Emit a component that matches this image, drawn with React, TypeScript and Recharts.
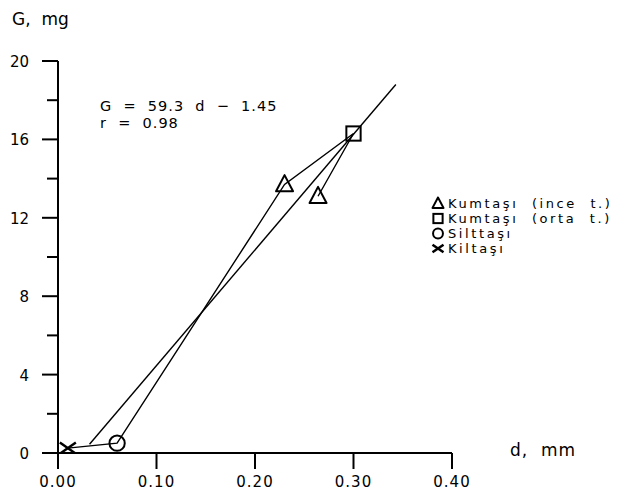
import React from "react";
import { ComposedChart, XAxis, YAxis, Line, Scatter } from "recharts";

const SP = "\u00A0";

// legend
const rockNames = [`Kumtaşı${SP}${SP}(ince${SP}${SP}t.)`, `Kumtaşı${SP}${SP}(orta${SP}${SP}t.)`, "Silttaşı", "Kiltaşı"];
const rockShapes = ["triangle", "square", "circle", "cross"];

// measured samples, in the order the connecting line runs
const sampleD = [0.01, 0.06, 0.23, 0.3, 0.264];
const sampleG = [0.25, 0.5, 13.7, 16.3, 13.1];
const sampleShape = ["cross", "circle", "triangle", "square", "triangle"];

// regression line ends (G = 59.3 d - 1.45)
const fitD = [0.032, 0.343];
const fitG = [0.45, 18.8];

const xTicks = [0, 0.1, 0.2, 0.3, 0.4];
const yTicks = [0, 2, 4, 6, 8, 10, 12, 14, 16, 18, 20];

const FONT = "'DejaVu Sans', sans-serif";

const pathData = sampleD.map((d, i) => ({ d, G: sampleG[i] }));
const fitData = fitD.map((d, i) => ({ d, G: fitG[i] }));

const Marker = ({ cx, cy, kind, size }: any) => {
  const s = size;
  const common = { fill: "none", stroke: "#000", strokeWidth: 2 };
  if (kind === "triangle")
    return (
      <polygon
        points={`${cx},${cy - s * 0.55} ${cx - s / 2},${cy + s * 0.4} ${cx + s / 2},${cy + s * 0.4}`}
        {...common}
        strokeLinejoin="round"
      />
    );
  if (kind === "square")
    return <rect x={cx - s * 0.42} y={cy - s * 0.42} width={s * 0.84} height={s * 0.84} {...common} />;
  if (kind === "circle") return <circle cx={cx} cy={cy} r={s * 0.45} {...common} />;
  return (
    <g {...common} strokeWidth={2.5}>
      <line x1={cx - s / 2} y1={cy - s * 0.35} x2={cx + s / 2} y2={cy + s * 0.35} />
      <line x1={cx - s / 2} y1={cy + s * 0.35} x2={cx + s / 2} y2={cy - s * 0.35} />
    </g>
  );
};

const YTick = ({ x, y, payload }: any) => {
  const major = payload.value % 4 === 0;
  return (
    <g>
      <line x1={x - (major ? 16 : 11)} x2={x} y1={y} y2={y} stroke="#000" strokeWidth={2} />
      {major && (
        <text x={x - 29} y={y + 6} textAnchor="end" fontFamily={FONT} fontSize={15} fill="#000">
          {payload.value}
        </text>
      )}
    </g>
  );
};

const XTick = ({ x, y, payload }: any) => (
  <g>
    <line x1={x} x2={x} y1={y} y2={y + 16} stroke="#000" strokeWidth={2} />
    <text x={x} y={y + 34} textAnchor="middle" fontFamily={FONT} fontSize={15} fill="#000" letterSpacing={1}>
      {payload.value.toFixed(2)}
    </text>
  </g>
);

const App = () => {
  return (
    <div style={{ position: "relative", width: 629, height: 487 }}>
      <ComposedChart width={629} height={487} margin={{ top: 53, right: 185, left: 0, bottom: 0 }}>
        <XAxis
          type="number"
          dataKey="d"
          domain={[0, 0.4]}
          ticks={xTicks}
          height={42}
          tickSize={0}
          tickMargin={0}
          tickLine={false}
          tick={<XTick />}
          axisLine={{ stroke: "#000", strokeWidth: 2 }}
          allowDataOverflow
        />
        <YAxis
          type="number"
          dataKey="G"
          domain={[0, 20]}
          ticks={yTicks}
          width={50}
          tickSize={0}
          tickMargin={0}
          tickLine={false}
          tick={<YTick />}
          axisLine={{ stroke: "#000", strokeWidth: 2 }}
          allowDataOverflow
        />
        <Line data={pathData} dataKey="G" type="linear" stroke="#000" strokeWidth={1.4} dot={false} isAnimationActive={false} />
        <Line data={fitData} dataKey="G" type="linear" stroke="#000" strokeWidth={1.4} dot={false} isAnimationActive={false} />
        {rockShapes.map((kind, k) => (
          <Scatter
            key={kind}
            name={rockNames[k]}
            data={pathData.filter((_, i) => sampleShape[i] === kind)}
            dataKey="G"
            isAnimationActive={false}
            shape={(p: any) => <Marker cx={p.cx} cy={p.cy} kind={kind} size={kind === "cross" ? 16 : 17} />}
          />
        ))}
      </ComposedChart>
      <svg width={629} height={487} style={{ position: "absolute", left: 0, top: 0, pointerEvents: "none" }}>
        <g fontFamily={FONT} fill="#000">
          <text x={4} y={17} fontSize={17}>{`G,${SP}${SP}mg`}</text>
          <text x={502} y={448} fontSize={17} letterSpacing={1}>{`d,${SP}${SP}mm`}</text>
          <text x={92} y={103} fontSize={14.5} letterSpacing={1}>
            {`G${SP}${SP}=${SP}${SP}59.3${SP}${SP}d${SP}${SP}−${SP}${SP}1.45`}
          </text>
          <text x={92} y={120} fontSize={14.5} letterSpacing={1}>{`r${SP}${SP}=${SP}${SP}0.98`}</text>
          {rockNames.map((name, k) => {
            const base = 200 + k * 15;
            return (
              <g key={name}>
                <Marker cx={430} cy={base - 4.5} kind={rockShapes[k]} size={11} />
                <text x={440} y={base} fontSize={13} letterSpacing={2.6}>{name}</text>
              </g>
            );
          })}
        </g>
      </svg>
    </div>
  );
};

export default App;
